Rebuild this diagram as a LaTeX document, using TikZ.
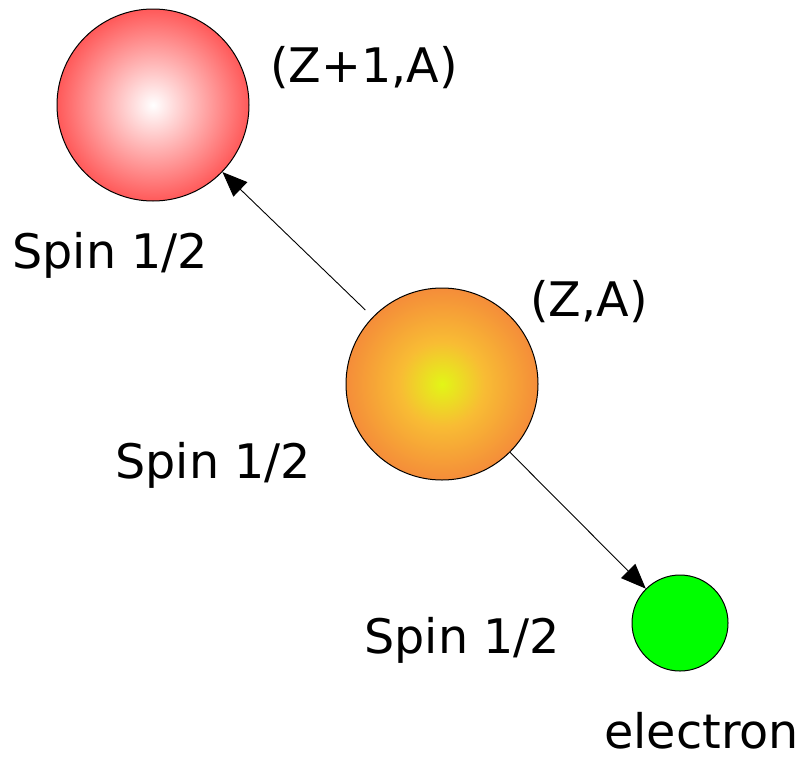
\documentclass[tikz,border=0pt]{standalone}
\usepackage{fontspec}
\setmainfont{DejaVu Sans}
\usetikzlibrary{arrows.meta}
\definecolor{nucred}{RGB}{255,76,76}
\definecolor{nucorange}{RGB}{244,134,58}
\definecolor{nucamber}{RGB}{248,188,52}
\definecolor{nucyellow}{RGB}{226,246,22}
\definecolor{elgreen}{RGB}{0,255,0}
\pgfdeclareradialshading{redball}{\pgfpoint{0bp}{0bp}}{%
  color(0bp)=(white); color(27bp)=(nucred); color(50bp)=(nucred)}
\pgfdeclareradialshading{orangeball}{\pgfpoint{0bp}{0bp}}{%
  color(0bp)=(nucyellow); color(11bp)=(nucamber); color(27bp)=(nucorange);
  color(50bp)=(nucorange)}

\begin{document}
\begin{tikzpicture}[
  x=0.5pt, y=-0.5pt,
  nuc/.style={circle, draw=black, line width=0.5pt, minimum size=96pt,
              inner sep=0pt},
  lep/.style={nuc, minimum size=48pt, fill=elgreen},
  decay/.style={-{Triangle[length=12.5pt, width=10pt]}, line width=0.45pt},
  lbl/.style={anchor=base west, inner sep=0pt,
              font=\fontsize{23.8}{28}\selectfont}]
  \useasboundingbox (0,0) rectangle (801,760);

  % --- parent, daughter and the emitted electron
  \node[nuc, shading=redball]    (dau) at (153,105) {};
  \node[nuc, shading=orangeball] (par) at (442,384) {};
  \node[lep]                     (ele) at (680,623) {};

  \draw[decay, shorten <=5pt] (par) -- (dau);
  \draw[decay] (par) -- (ele);

  % --- labels
  \node[lbl] (dauz) at (270, 82) {(Z+1,A)};
  \node[lbl] (dauj) at ( 12,268) {Spin 1/2};
  \node[lbl] (parz) at (530,316) {(Z,A)};
  \node[lbl] (parj) at (115,478) {Spin 1/2};
  \node[lbl] (elej) at (364,653) {Spin 1/2};
  \node[lbl] (elen) at (604,748) {electron};
\end{tikzpicture}
\end{document}
